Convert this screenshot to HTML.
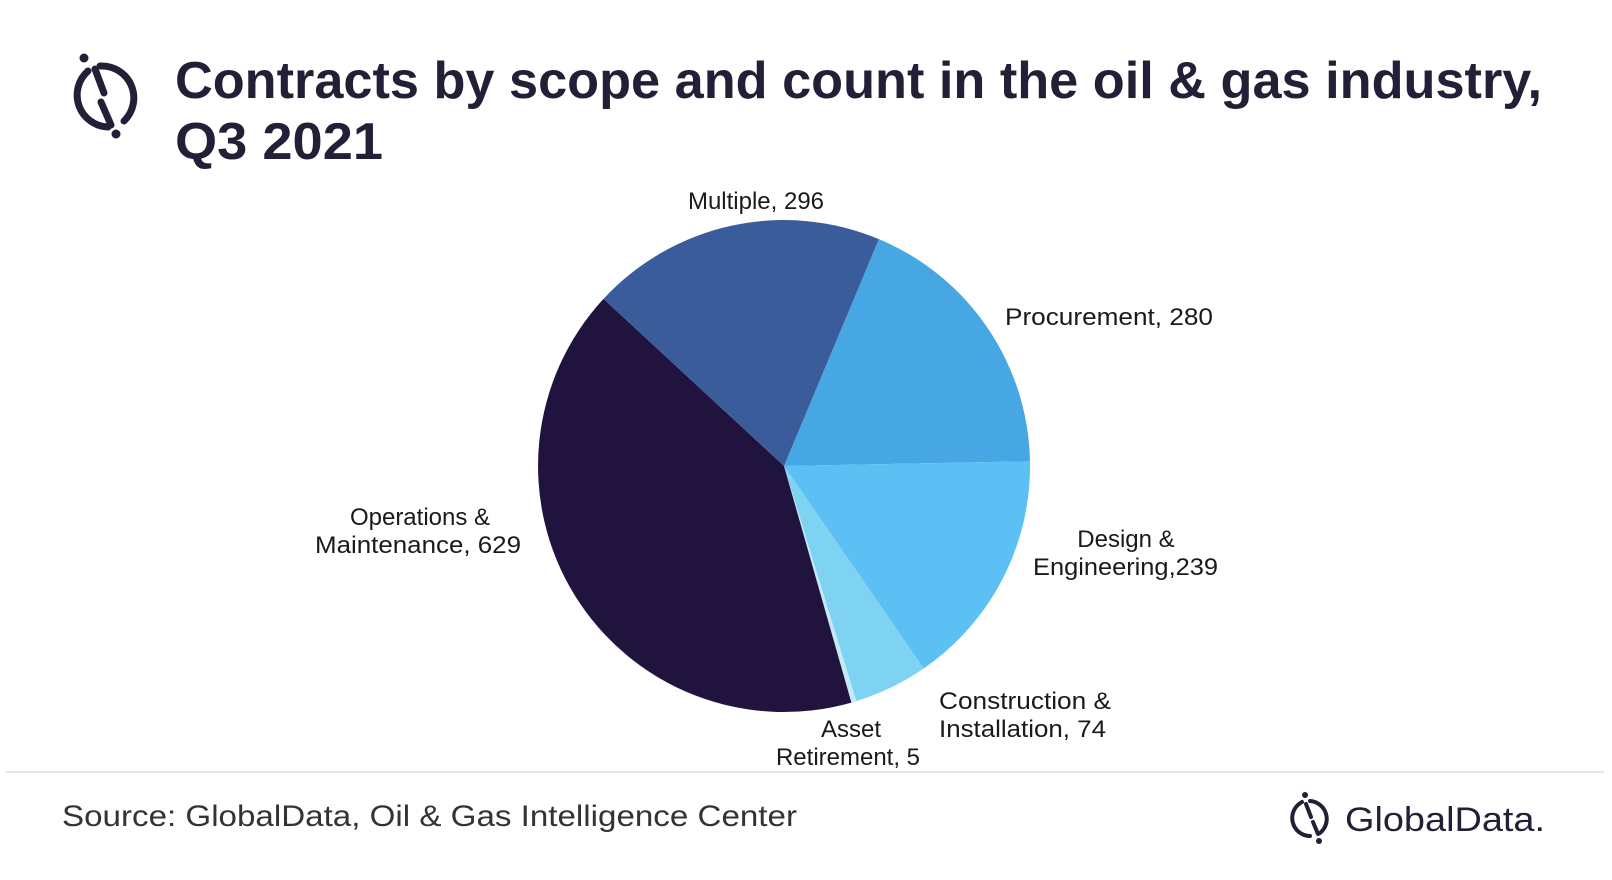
<!DOCTYPE html>
<html><head><meta charset="utf-8"><style>
html,body{margin:0;padding:0;background:#fff;}
svg{display:block;}
text{font-family:"Liberation Sans",sans-serif;fill:#1a1a1a;}
</style></head><body>
<svg width="1612" height="880" viewBox="0 0 1612 880" xmlns="http://www.w3.org/2000/svg">
<rect width="1612" height="880" fill="#fff"/>
<g fill="none" stroke="#221f36" stroke-width="7" stroke-linecap="round">
<path d="M88 71 A32 32 0 0 0 108 127"/>
<path d="M100 66 A32 32 0 0 1 124 121"/>
<path d="M95 69 L104 93"/>
<path d="M101 102 L111 125"/>
</g>
<circle cx="84" cy="58" r="4.5" fill="#221f36"/>
<circle cx="116" cy="134" r="4.5" fill="#221f36"/>
<text x="175" y="98" font-size="52" font-weight="bold" style="fill:#221f36" textLength="1367" lengthAdjust="spacingAndGlyphs">Contracts by scope and count in the oil &amp; gas industry,</text>
<text x="175" y="159" font-size="52" font-weight="bold" style="fill:#221f36" textLength="208" lengthAdjust="spacingAndGlyphs">Q3 2021</text>
<g>
<path d="M784 466 L878.9 239.1 A246 246 0 0 1 1030 461.3 Z" fill="#46a7e3"/>
<path d="M784 466 L1030 461.3 A246 246 0 0 1 923.7 668.5 Z" fill="#5dc0f4"/>
<path d="M784 466 L923.7 668.5 A246 246 0 0 1 856.3 701.1 Z" fill="#7ed3f2"/>
<path d="M784 466 L856.3 701.1 A246 246 0 0 1 851.4 702.6 Z" fill="#c4eaf8"/>
<path d="M784 466 L851.4 702.6 A246 246 0 0 1 603.5 298.9 Z" fill="#20133e"/>
<path d="M784 466 L603.5 298.9 A246 246 0 0 1 878.9 239.1 Z" fill="#3b5c9b"/>
</g>
<g font-size="24">
<text x="756" y="209" text-anchor="middle">Multiple, 296</text>
<text x="1005" y="325" textLength="208" lengthAdjust="spacingAndGlyphs">Procurement, 280</text>
<text x="1126" y="547" text-anchor="middle">Design &amp;</text>
<text x="1033" y="575" textLength="185" lengthAdjust="spacingAndGlyphs">Engineering,239</text>
<text x="939" y="709" textLength="172" lengthAdjust="spacingAndGlyphs">Construction &amp;</text>
<text x="939" y="737" textLength="167" lengthAdjust="spacingAndGlyphs">Installation, 74</text>
<text x="851" y="737" text-anchor="middle">Asset</text>
<text x="848" y="765" text-anchor="middle">Retirement, 5</text>
<text x="420" y="525" text-anchor="middle">Operations &amp;</text>
<text x="315" y="553" textLength="206" lengthAdjust="spacingAndGlyphs">Maintenance, 629</text>
</g>
<line x1="6" y1="772" x2="1604" y2="772" stroke="#e6e6e6" stroke-width="2"/>
<text x="62" y="826" font-size="30" style="fill:#333" textLength="735" lengthAdjust="spacingAndGlyphs">Source: GlobalData, Oil &amp; Gas Intelligence Center</text>
<g fill="none" stroke="#221f36" stroke-width="4" stroke-linecap="round">
<path d="M1302 802 A18 18 0 0 0 1310 836"/>
<path d="M1310 801 A18 18 0 0 1 1320 833"/>
<path d="M1306 804 L1311 817"/>
<path d="M1313 822 L1318 834"/>
</g>
<circle cx="1305" cy="795" r="3" fill="#221f36"/>
<circle cx="1319" cy="841" r="3" fill="#221f36"/>
<text x="1345" y="831" font-size="34" style="fill:#221f36" textLength="200" lengthAdjust="spacingAndGlyphs">GlobalData.</text>
</svg>
</body></html>
